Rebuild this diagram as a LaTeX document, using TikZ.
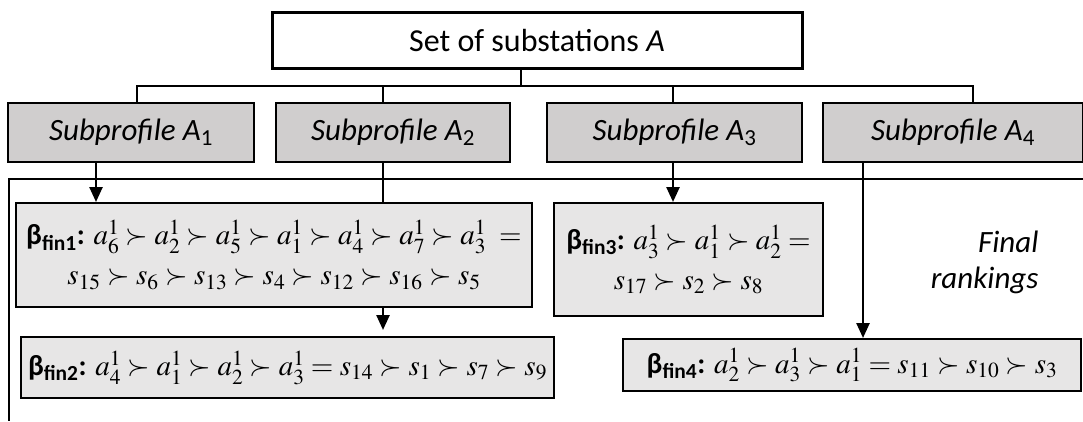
\documentclass[tikz,border=0pt]{standalone}
\usepackage{mathptmx}
\usepackage[no-math]{fontspec}
\setmainfont{Carlito}
\usetikzlibrary{arrows.meta,positioning}
\definecolor{subgray}{RGB}{208,206,206}
\definecolor{rankgray}{RGB}{231,230,230}
\newcommand{\bfin}[1]{\textbf{β\textsubscript{fin#1}:}}

\begin{document}
\begin{tikzpicture}[x=1pt, y=-1pt,
  head/.style={draw, line width=3pt, fill=white, minimum width=530pt, minimum height=56pt, font=\fontsize{32}{38}\selectfont},
  sub/.style={draw, line width=2pt, fill=subgray, minimum height=59pt, font=\fontsize{31}{37}\selectfont\itshape},
  rank/.style={draw, line width=2pt, fill=rankgray, align=center, font=\fontsize{29}{40}\selectfont},
  link/.style={line width=2.5pt},
  arr/.style={line width=2.5pt, -{Triangle[length=15pt,width=13pt]}}
]
\useasboundingbox (0,0) rectangle (1083,421);

% frame of the final rankings
\draw[line width=2pt] (1083,179) -| (9,421);

\node[head] (set) at (537,40.5) {Set of substations \textit{A}};

\node[sub, minimum width=246pt] (sub1) at (131,132.5) {Subprofile A\textsubscript{\upshape 1}};
\node[sub, minimum width=234pt] (sub2) at (393,132.5) {Subprofile A\textsubscript{\upshape 2}};
\node[sub, minimum width=255pt] (sub3) at (674.5,132.5) {Subprofile A\textsubscript{\upshape 3}};
\node[sub, minimum width=260pt] (sub4) at (953,132.5) {Subprofile A\textsubscript{\upshape 4}};

\node[rank, minimum width=516pt, minimum height=104pt] (fin1) at (274,255)
  {\bfin{1} $a^1_6\succ a^1_2\succ a^1_5\succ a^1_1\succ a^1_4\succ a^1_7\succ a^1_3\ =$\\
   $s_{15}\succ s_6\succ s_{13}\succ s_4\succ s_{12}\succ s_{16}\succ s_5$};
\node[rank, minimum width=533pt, minimum height=61pt] (fin2) at (287.5,367.5)
  {\bfin{2} $a^1_4\succ a^1_1\succ a^1_2\succ a^1_3=s_{14}\succ s_1\succ s_7\succ s_9$};
\node[rank, minimum width=269pt, minimum height=113pt] (fin3) at (688.5,259.5)
  {\bfin{3} $a^1_3\succ a^1_1\succ a^1_2=$\\
   $s_{17}\succ s_2\succ s_8$};
\node[rank, minimum width=458pt, minimum height=52pt] (fin4) at (852,365)
  {\bfin{4} $a^1_2\succ a^1_3\succ a^1_1=s_{11}\succ s_{10}\succ s_3$};

\node[align=right, anchor=east, font=\fontsize{31}{36}\selectfont\itshape] (final) at (1042,262) {Final\\rankings};

% tree from the set to the subprofiles
\coordinate (split) at (521,86);
\coordinate (j1) at (137,86);
\coordinate (j2) at (383,86);
\coordinate (j3) at (673,86);
\coordinate (j4) at (973,86);
\draw[link] (set.south -| split) -- (split);
\draw[link] (j1 |- sub1.north) |- (j4) -- (j4 |- sub4.north);
\draw[link] (j2) -- (j2 |- sub2.north);
\draw[link] (j3) -- (j3 |- sub3.north);

% subprofiles to final rankings
\coordinate (d1) at (96,0);
\coordinate (d4) at (863,0);
\coordinate (stop2) at (383,330);
\draw[arr] (sub1.south -| d1) -- (fin1.north -| d1);
\draw[link] (sub2.south -| j2) -- (fin1.north -| j2);
\draw[arr] (fin1.south -| j2) -- (stop2);
\draw[arr] (sub3.south -| j3) -- (fin3.north -| j3);
\draw[arr] (sub4.south -| d4) -- (fin4.north -| d4);
\end{tikzpicture}
\end{document}
